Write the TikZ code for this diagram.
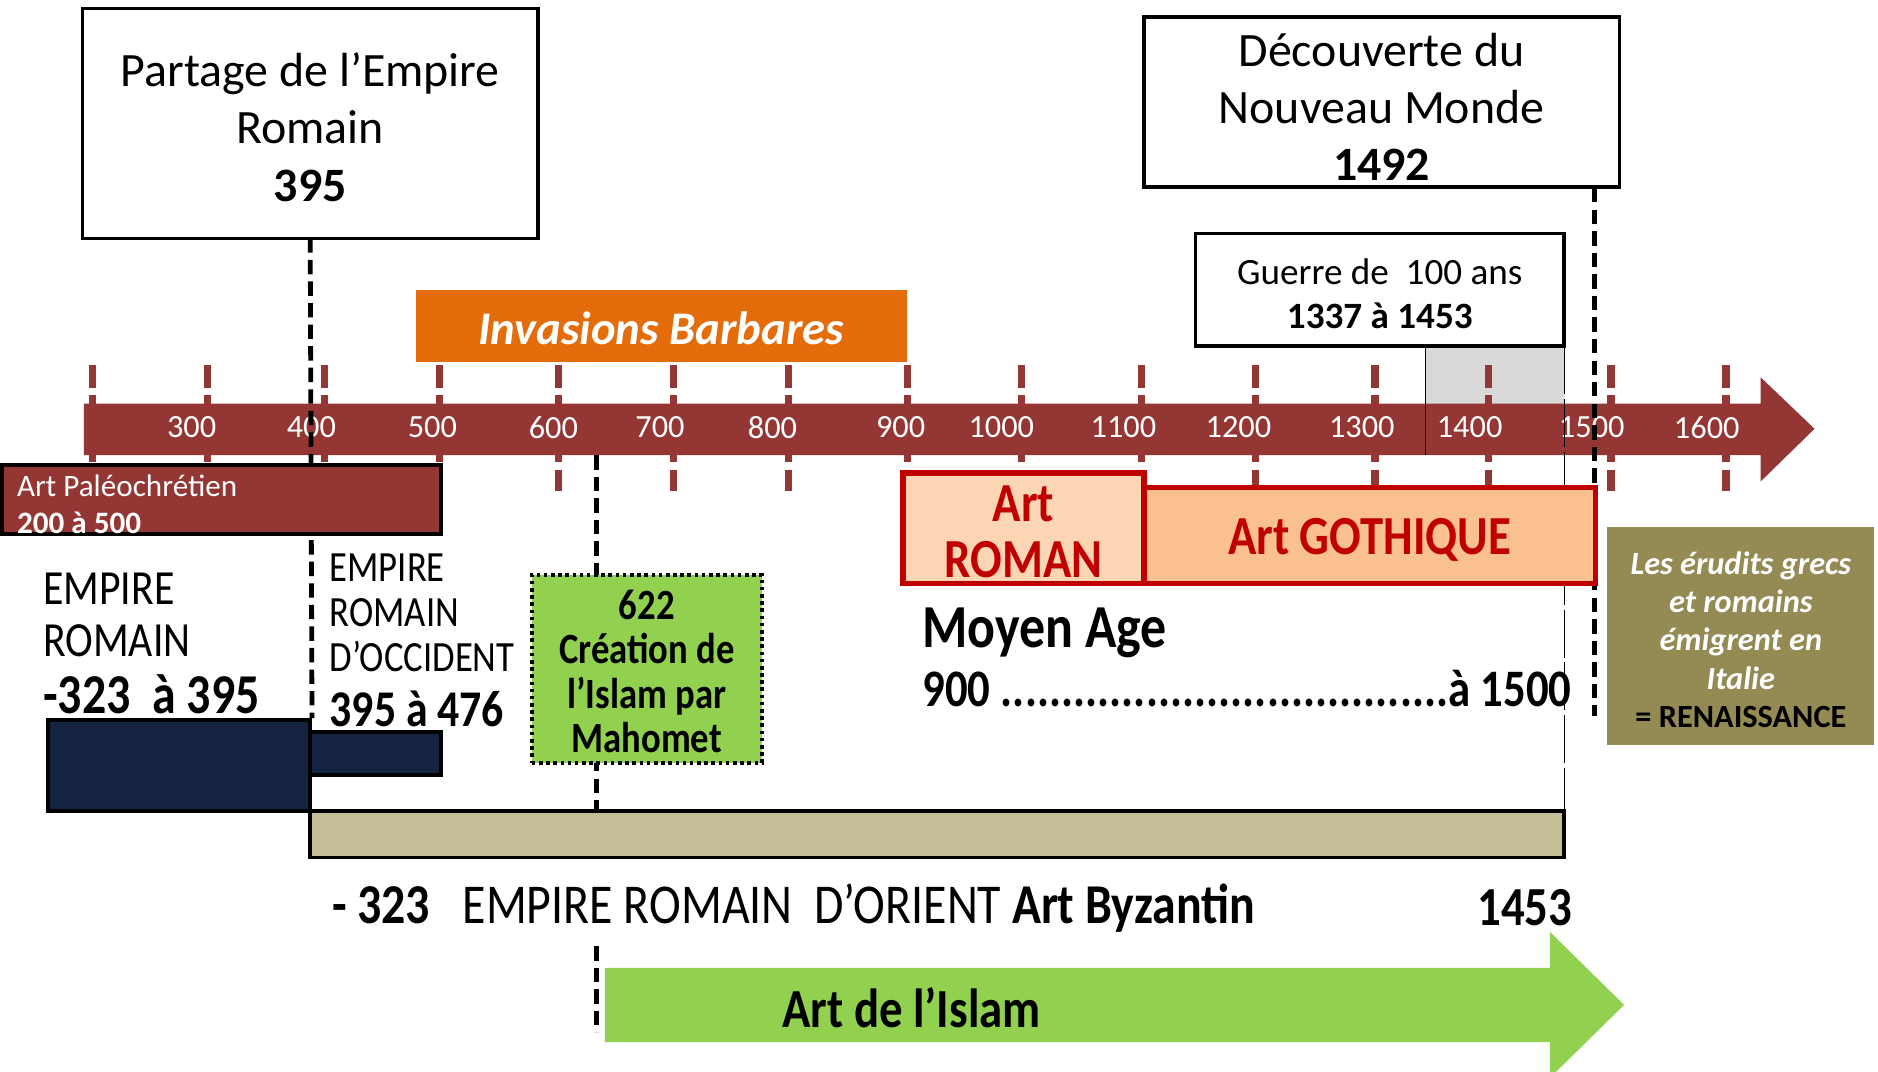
\documentclass[tikz,border=0pt]{standalone}
\usepackage{fontspec}
\setmainfont{Carlito}
\newfontfamily\cond[FakeStretch=0.85]{Carlito}
\definecolor{tl}{HTML}{943634}
\definecolor{orangeB}{HTML}{E46C0A}
\definecolor{navy}{HTML}{132340}
\definecolor{lgreen}{HTML}{92D050}
\definecolor{redB}{HTML}{C00000}
\definecolor{peachA}{HTML}{FCD5B5}
\definecolor{peachB}{HTML}{FAC090}
\definecolor{olive}{HTML}{948A54}
\definecolor{khaki}{HTML}{C4BD97}
\definecolor{grayB}{HTML}{D9D9D9}
\begin{document}
\begin{tikzpicture}[x=1pt,y=-1pt,
  blackbox/.style={draw=black, line width=3pt, fill=white, inner sep=0pt},
  tickmark/.style={draw=tl, line width=6pt},
  bigdash/.style={draw=black, line width=4pt, dash pattern=on 12pt off 6pt},
  thinline/.style={draw=black, line width=1.2pt},
  yearlbl/.style={text=white, font=\fontsize{27}{30}\selectfont, inner sep=0pt},
  filledbox/.style={draw=black, line width=3pt, inner sep=0pt},
  redbox/.style={draw=redB, line width=4.5pt, inner sep=0pt},
  redtext/.style={inner sep=0pt, align=center, text=redB, font=\cond\bfseries\fontsize{46}{46}\selectfont},
  plaintext/.style={inner sep=0pt, text=black}
]
\useasboundingbox (0,0) rectangle (1568,895);
\fill[white] (0,0) rectangle (1568,895);

% gray band of the Hundred Years War
\fill[grayB] (1190,289) rectangle (1306,338);

% ticks
\foreach \t in {77,173,271,367,466,562,658,758,853,953,1048,1148,1243,1345,1441}{
  \draw[tickmark] (\t,305) -- (\t,324);
  \draw[tickmark] (\t,330) -- (\t,342);
  \draw[tickmark] (\t,375) -- (\t,386);
  \draw[tickmark] (\t,392) -- (\t,410);
}

% timeline arrow
\fill[tl] (70,337) -- (1470,337) -- (1470,315) -- (1515,358) -- (1470,402) -- (1470,380) -- (70,380) -- cycle;
\coordinate (tlbottom) at (498,380);

\foreach \x/\y in {160/300,260/400,361/500,462/600,551/700,645/800,752/900,836/1000,938/1100,1034/1200,1137/1300,1227/1400,1329/1500,1425/1600}{
  \node[yearlbl] at (\x,357) {\y};
}

% Invasions barbares
\node[fill=orangeB, minimum width=410, minimum height=60, inner sep=0pt] (inv) at (552,272) {};
\node[plaintext, text=white, font=\bfseries\itshape\fontsize{39}{44}\selectfont] (invtxt) at ([yshift=-2pt]inv.center) {Invasions Barbares};

% boxes at the top
\node[blackbox, minimum width=380, minimum height=192] (partage) at (259,103) {};
\node[plaintext, align=center, font=\fontsize{40}{48}\selectfont] (partagetxt) at ([yshift=-3pt]partage.center)
  {Partage de l’Empire\\Romain\\\textbf{395}};
\node[blackbox, minimum width=397, minimum height=142] (decouv) at (1153.5,85) {};
\node[plaintext, align=center, font=\fontsize{40}{47.5}\selectfont] (decouvtxt) at ([yshift=-4pt]decouv.center)
  {Découverte du\\Nouveau Monde\\\textbf{1492}};
\node[blackbox, minimum width=308, minimum height=94] (guerre) at (1152,242) {};
\node[plaintext, align=center, font=\fontsize{31}{37}\selectfont] (guerretxt) at ([yshift=-3pt]guerre.center)
  {Guerre de\ \ 100 ans\\\textbf{1337 à 1453}};

% thin lines of the Hundred Years War
\coordinate (g1) at (1190,289);
\coordinate (g1b) at (1190,380);
\coordinate (g2) at (1306,289);
\draw[thinline] (g1) -- (g1b);

% dark blue boxes and Byzantine bar
\node[filledbox, fill=navy, minimum width=219, minimum height=76] (bluebig) at (149.5,639) {};
\node[filledbox, fill=navy, minimum width=109, minimum height=36] (bluesmall) at (313.5,629) {};
\node[filledbox, fill=khaki, minimum width=1047, minimum height=39] (byz) at (782.5,696.5) {};

\draw[thinline, dash pattern=on 40pt off 4pt] (g2) -- (g2 |- byz.north);

% dashed event lines
\coordinate (l395) at (259,199);
\draw[bigdash] (l395) -- (bluebig.north east);
\coordinate (islam1) at (498,790);
\coordinate (islam2) at (498,862);
\draw[bigdash] (tlbottom) -- (tlbottom |- byz.north);
\draw[bigdash] (islam1) -- (islam2);
\coordinate (l1492a) at (1331,157);
\coordinate (l1492b) at (1331,598);
\draw[bigdash] (l1492a) -- (l1492b);

% Art paleochretien
\node[filledbox, fill=tl, minimum width=366.5, minimum height=58] (paleo) at (184.75,417) {};
\node[plaintext, anchor=west, align=left, text=white, font=\fontsize{26}{31}\selectfont] (paleotxt)
  at ([xshift=14pt,yshift=-4pt]paleo.west)
  {Art Paléochrétien\\\textbf{200 à 500}};

% Empire romain texts
\node[plaintext, anchor=west, align=left, font=\cond\fontsize{41}{43}\selectfont] (er) at (36,513.5)
  {EMPIRE\\ROMAIN};
\node[plaintext, anchor=west, font=\cond\bfseries\fontsize{47}{47}\selectfont] (erdate) at (36,580)
  {-323\ \ à 395};
\node[plaintext, anchor=west, align=left, font=\cond\fontsize{36}{37.5}\selectfont] (ero) at (275,511.5)
  {EMPIRE\\ROMAIN\\D’OCCIDENT};
\node[plaintext, anchor=west, font=\cond\bfseries\fontsize{43}{43}\selectfont] (erodate) at (275,592)
  {395 à 476};

% 622
\node[draw=black, line width=3pt, dash pattern=on 3pt off 3pt, fill=lgreen, minimum width=192, minimum height=157,
      inner sep=0pt] (hegire) at (540,558.5) {};
\node[plaintext, align=center, font=\cond\bfseries\fontsize{36}{37}\selectfont] (hegiretxt) at ([yshift=-2pt]hegire.center)
  {622\\Création de\\l’Islam par\\Mahomet};

% Art roman / gothique
\node[redbox, fill=peachB, minimum width=377, minimum height=80] (gothique) at (1143.5,447) {};
\node[redtext] (gothiquetxt) at ([yshift=-4pt]gothique.center) {Art GOTHIQUE};
\node[redbox, fill=peachA, minimum width=201, minimum height=92] (roman) at (854.5,441) {};
\node[redtext] (romantxt) at ([yshift=-3pt]roman.center) {Art\\ROMAN};

% Moyen Age
\node[plaintext, anchor=west, font=\cond\bfseries\fontsize{51}{51}\selectfont] (ma) at (770,528) {Moyen Age};
\node[plaintext, anchor=west, font=\cond\bfseries\fontsize{44}{44}\selectfont] (madate) at (770,575)
  {\makebox[542pt][s]{900 \xleaders\hbox{.}\hfill\mbox{à 1500}}};

% Renaissance
\node[fill=olive, minimum width=223, minimum height=182, inner sep=0pt] (renais) at (1453.5,531) {};
\node[plaintext, align=center, font=\fontsize{27}{32}\selectfont] (renaistxt) at ([yshift=-3pt]renais.center)
  {\color{white}\bfseries\itshape Les érudits grecs\\\color{white}\bfseries\itshape et romains\\
   \color{white}\bfseries\itshape émigrent en\\\color{white}\bfseries\itshape Italie\\\textbf{= RENAISSANCE}};

% Byzantine text
\node[plaintext, anchor=west, font=\cond\fontsize{47}{47}\selectfont] (orient) at (277,758)
  {\textbf{- 323}\ \ \ EMPIRE ROMAIN\ \ D’ORIENT \textbf{Art Byzantin}};
\node[plaintext, anchor=east, font=\cond\bfseries\fontsize{46}{46}\selectfont] (fin) at (1313,758) {1453};

% Art de l'Islam arrow
\fill[lgreen] (505,808) -- (1294,808) -- (1294,778) -- (1356,839) -- (1294,900) -- (1294,870) -- (505,870) -- cycle;
\node[plaintext, font=\cond\bfseries\fontsize{46}{46}\selectfont] (islam) at (761,841) {Art de l’Islam};
\end{tikzpicture}
\end{document}
